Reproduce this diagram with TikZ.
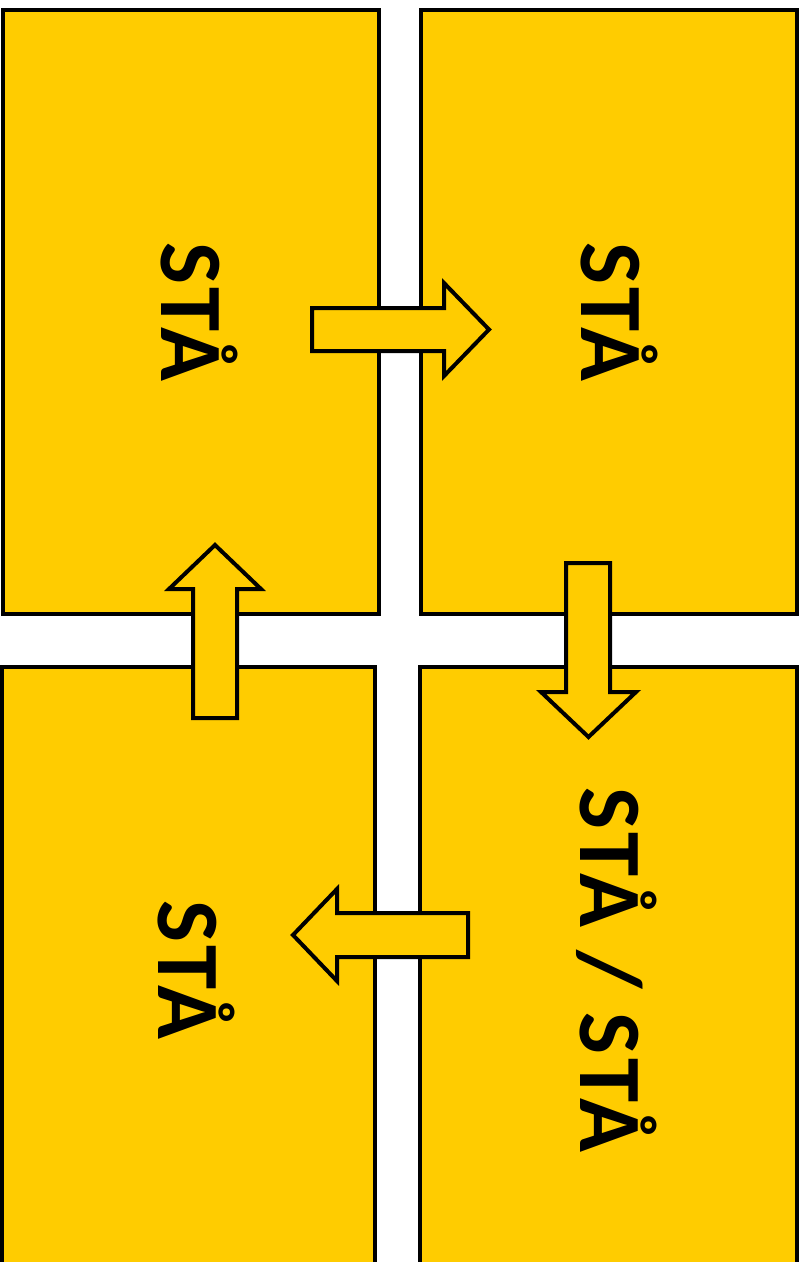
\documentclass[tikz,border=0pt]{standalone}
\usepackage{fontspec}
\setmainfont{Carlito}
\newfontfamily\signfont[LetterSpace=4.2]{Carlito}
\definecolor{signyellow}{RGB}{255,204,0}
\tikzset{
  panel/.style={draw=black, fill=signyellow, line width=4pt, line join=miter},
  blockarrow/.style={draw=black, fill=signyellow, line width=4pt, line join=miter},
  label/.style={rotate=-90, font=\signfont\fontsize{89}{92}\selectfont\bfseries, inner sep=0pt, anchor=center}
}
\begin{document}
\begin{tikzpicture}[x=1pt,y=-1pt]
\useasboundingbox (0,0) rectangle (808,1262);
\clip (0,0) rectangle (808,1262);
\fill[white] (0,0) rectangle (808,1262);
% panels
\draw[panel] (3,10) rectangle (379,614);
\draw[panel] (421,10) rectangle (797,614);
\draw[panel] (1.5,667) rectangle (375,1290);
\draw[panel] (420,667) rectangle (797,1290);
% arrows
\draw[blockarrow] (312,308) -- (444,308) -- (444,283) -- (489,329.5) -- (444,376) -- (444,351) -- (312,351) -- cycle;
\draw[blockarrow] (566,563) -- (610,563) -- (610,692) -- (636,692) -- (588.5,737) -- (541,692) -- (566,692) -- cycle;
\draw[blockarrow] (193,718) -- (237,718) -- (237,589) -- (261,589) -- (215,545) -- (169,589) -- (193,589) -- cycle;
\draw[blockarrow] (468,913) -- (468,957) -- (337,957) -- (337,981) -- (293,935) -- (337,889) -- (337,913) -- cycle;
% labels
\node[label] (tl) at (199,312) {STÅ};
\node[label] (tr) at (619,312) {STÅ};
\node[label] (bl) at (196,970) {STÅ};
\node[label] (br) at (617,970) {STÅ / STÅ};
\end{tikzpicture}
\end{document}
